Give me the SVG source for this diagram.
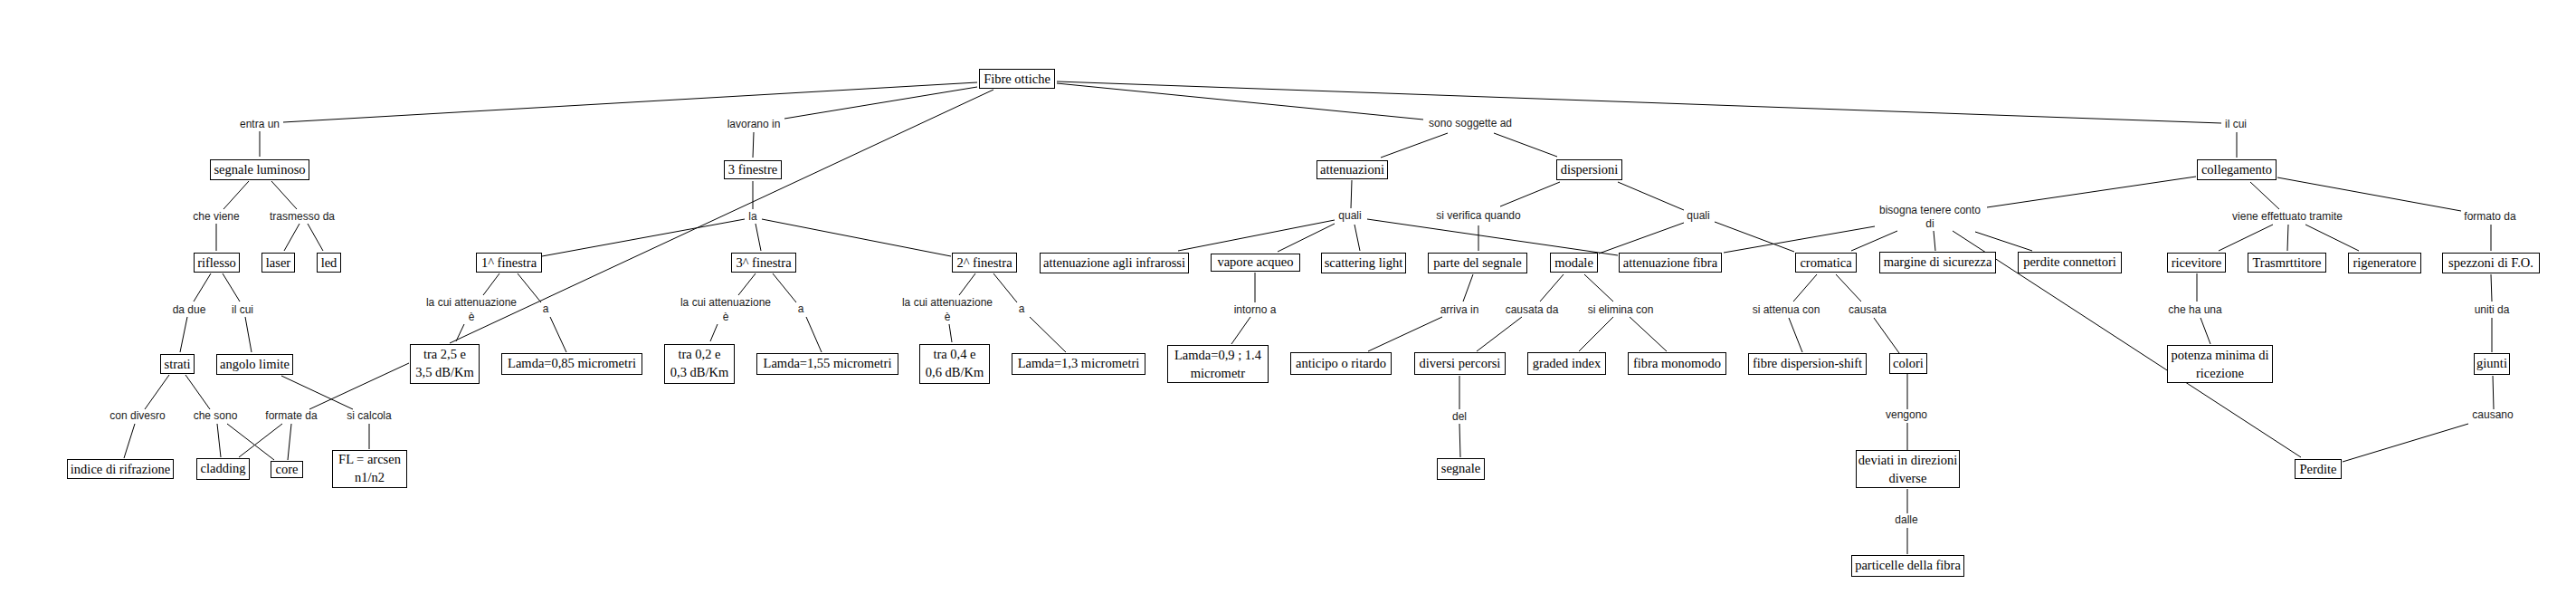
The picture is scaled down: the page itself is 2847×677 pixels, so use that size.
<svg xmlns="http://www.w3.org/2000/svg" width="2847" height="677" viewBox="0 0 2847 677">
<style>
.bg{fill:#fff}
.n rect{fill:#fff;stroke:#000;stroke-width:1}
.n text{font-family:"Liberation Serif","Times New Roman",serif;font-size:14.5px;fill:#000;text-anchor:middle}
.l text{font-family:"Liberation Sans",Arial,sans-serif;font-size:12px;fill:#1a1a1a;text-anchor:middle}
#connectors line{stroke:#000;stroke-width:1;fill:none}
</style>
<rect class="bg" x="0" y="0" width="2847" height="677"/>
<g id="connectors">
<line x1="1080" y1="91" x2="313" y2="135"/>
<line x1="287" y1="145" x2="287" y2="173"/>
<line x1="1080" y1="96" x2="867" y2="131"/>
<line x1="833" y1="146" x2="832" y2="174"/>
<line x1="1098" y1="99" x2="497" y2="379"/>
<line x1="1168" y1="90" x2="2455" y2="136"/>
<line x1="1168" y1="92" x2="1573" y2="132"/>
<line x1="1600" y1="147" x2="1526" y2="174"/>
<line x1="1651" y1="147" x2="1721" y2="173"/>
<line x1="2472" y1="146" x2="2472" y2="174"/>
<line x1="275" y1="200" x2="247" y2="231"/>
<line x1="300" y1="200" x2="328" y2="231"/>
<line x1="239" y1="247" x2="239" y2="277"/>
<line x1="331" y1="247" x2="314" y2="277"/>
<line x1="340" y1="247" x2="357" y2="277"/>
<line x1="233" y1="302" x2="214" y2="333"/>
<line x1="246" y1="302" x2="265" y2="333"/>
<line x1="207" y1="350" x2="199" y2="389"/>
<line x1="271" y1="350" x2="278" y2="389"/>
<line x1="187" y1="414" x2="160" y2="452"/>
<line x1="205" y1="414" x2="232" y2="452"/>
<line x1="311" y1="415" x2="390" y2="452"/>
<line x1="452" y1="401" x2="342" y2="452"/>
<line x1="149" y1="468" x2="137" y2="506"/>
<line x1="240" y1="468" x2="244" y2="505"/>
<line x1="251" y1="468" x2="303" y2="508"/>
<line x1="312" y1="468" x2="264" y2="505"/>
<line x1="322" y1="468" x2="318" y2="508"/>
<line x1="408" y1="468" x2="408" y2="496"/>
<line x1="832" y1="200" x2="832" y2="231"/>
<line x1="823" y1="242" x2="599" y2="283"/>
<line x1="835" y1="247" x2="841" y2="277"/>
<line x1="842" y1="242" x2="1051" y2="283"/>
<line x1="552" y1="302" x2="534" y2="326"/>
<line x1="572" y1="302" x2="598" y2="334"/>
<line x1="513" y1="358" x2="504" y2="377"/>
<line x1="608" y1="350" x2="626" y2="389"/>
<line x1="835" y1="302" x2="816" y2="326"/>
<line x1="854" y1="302" x2="880" y2="334"/>
<line x1="793" y1="358" x2="785" y2="377"/>
<line x1="891" y1="350" x2="908" y2="389"/>
<line x1="1078" y1="302" x2="1060" y2="326"/>
<line x1="1098" y1="302" x2="1124" y2="334"/>
<line x1="1049" y1="358" x2="1052" y2="378"/>
<line x1="1138" y1="350" x2="1178" y2="389"/>
<line x1="1494" y1="199" x2="1493" y2="230"/>
<line x1="1475" y1="243" x2="1302" y2="277"/>
<line x1="1475" y1="247" x2="1412" y2="278"/>
<line x1="1497" y1="248" x2="1503" y2="277"/>
<line x1="1511" y1="242" x2="1788" y2="282"/>
<line x1="1387" y1="301" x2="1387" y2="334"/>
<line x1="1382" y1="350" x2="1361" y2="380"/>
<line x1="1724" y1="201" x2="1658" y2="228"/>
<line x1="1788" y1="201" x2="1861" y2="232"/>
<line x1="1634" y1="249" x2="1634" y2="277"/>
<line x1="1861" y1="246" x2="1767" y2="280"/>
<line x1="1895" y1="245" x2="1983" y2="278"/>
<line x1="1628" y1="303" x2="1617" y2="333"/>
<line x1="1594" y1="350" x2="1512" y2="388"/>
<line x1="1728" y1="303" x2="1702" y2="333"/>
<line x1="1751" y1="303" x2="1783" y2="333"/>
<line x1="1682" y1="350" x2="1632" y2="388"/>
<line x1="1783" y1="350" x2="1745" y2="388"/>
<line x1="1801" y1="350" x2="1842" y2="388"/>
<line x1="1613" y1="415" x2="1613" y2="452"/>
<line x1="1613" y1="468" x2="1614" y2="505"/>
<line x1="2008" y1="303" x2="1982" y2="333"/>
<line x1="2029" y1="303" x2="2057" y2="333"/>
<line x1="1977" y1="351" x2="1992" y2="389"/>
<line x1="2071" y1="351" x2="2099" y2="390"/>
<line x1="2108" y1="413" x2="2108" y2="452"/>
<line x1="2108" y1="467" x2="2108" y2="497"/>
<line x1="2108" y1="540" x2="2108" y2="567"/>
<line x1="2108" y1="583" x2="2108" y2="612"/>
<line x1="2427" y1="195" x2="2196" y2="229"/>
<line x1="2072" y1="250" x2="1905" y2="279"/>
<line x1="2097" y1="255" x2="2046" y2="277"/>
<line x1="2137" y1="255" x2="2139" y2="277"/>
<line x1="2158" y1="255" x2="2543" y2="505"/>
<line x1="2183" y1="256" x2="2246" y2="277"/>
<line x1="2487" y1="201" x2="2519" y2="231"/>
<line x1="2517" y1="196" x2="2720" y2="233"/>
<line x1="2512" y1="248" x2="2452" y2="277"/>
<line x1="2529" y1="248" x2="2528" y2="277"/>
<line x1="2548" y1="248" x2="2607" y2="277"/>
<line x1="2753" y1="248" x2="2753" y2="277"/>
<line x1="2428" y1="302" x2="2428" y2="333"/>
<line x1="2432" y1="351" x2="2443" y2="380"/>
<line x1="2753" y1="303" x2="2754" y2="333"/>
<line x1="2754" y1="351" x2="2754" y2="389"/>
<line x1="2755" y1="415" x2="2756" y2="452"/>
<line x1="2728" y1="468" x2="2589" y2="510"/>
</g>
<g id="labels" class="l">
<g id="lbl-entra"><text x="287" y="141">entra un</text></g>
<g id="lbl-lavorano"><text x="833" y="141">lavorano in</text></g>
<g id="lbl-soggette"><text x="1625" y="140">sono soggette ad</text></g>
<g id="lbl-ilcui1"><text x="2471" y="141">il cui</text></g>
<g id="lbl-cheviene"><text x="239" y="243">che viene</text></g>
<g id="lbl-trasmesso"><text x="334" y="243">trasmesso da</text></g>
<g id="lbl-dadue"><text x="209" y="346">da due</text></g>
<g id="lbl-ilcui2"><text x="268" y="346">il cui</text></g>
<g id="lbl-condivesro"><text x="152" y="463">con divesro</text></g>
<g id="lbl-chesono"><text x="238" y="463">che sono</text></g>
<g id="lbl-formate"><text x="322" y="463">formate da</text></g>
<g id="lbl-sicalcola"><text x="408" y="463">si calcola</text></g>
<g id="lbl-la"><text x="832" y="243">la</text></g>
<g id="lbl-att1"><text x="521" y="338">la cui attenuazione</text><text x="521" y="354">è</text></g>
<g id="lbl-a1"><text x="603" y="345">a</text></g>
<g id="lbl-att3"><text x="802" y="338">la cui attenuazione</text><text x="802" y="354">è</text></g>
<g id="lbl-a3"><text x="885" y="345">a</text></g>
<g id="lbl-att2"><text x="1047" y="338">la cui attenuazione</text><text x="1047" y="354">è</text></g>
<g id="lbl-a2"><text x="1129" y="345">a</text></g>
<g id="lbl-quali1"><text x="1492" y="242">quali</text></g>
<g id="lbl-siverifica"><text x="1634" y="242">si verifica quando</text></g>
<g id="lbl-quali2"><text x="1877" y="242">quali</text></g>
<g id="lbl-intorno"><text x="1387" y="346">intorno a</text></g>
<g id="lbl-arriva"><text x="1613" y="346">arriva in</text></g>
<g id="lbl-causatada"><text x="1693" y="346">causata da</text></g>
<g id="lbl-sielimina"><text x="1791" y="346">si elimina con</text></g>
<g id="lbl-del"><text x="1613" y="464">del</text></g>
<g id="lbl-bisogna"><text x="2133" y="236">bisogna tenere conto</text><text x="2133" y="251">di</text></g>
<g id="lbl-siattenua"><text x="1974" y="346">si attenua con</text></g>
<g id="lbl-causata"><text x="2064" y="346">causata</text></g>
<g id="lbl-vengono"><text x="2107" y="462">vengono</text></g>
<g id="lbl-dalle"><text x="2107" y="578">dalle</text></g>
<g id="lbl-viene"><text x="2528" y="243">viene effettuato tramite</text></g>
<g id="lbl-formato"><text x="2752" y="243">formato da</text></g>
<g id="lbl-cheha"><text x="2426" y="346">che ha una</text></g>
<g id="lbl-uniti"><text x="2754" y="346">uniti da</text></g>
<g id="lbl-causano"><text x="2755" y="462">causano</text></g>
</g>
<g id="nodes" class="n">
<g id="n-fibre"><rect x="1082.5" y="76.5" width="83" height="21"/><text x="1124" y="92">Fibre ottiche</text></g>
<g id="n-segnale-luminoso"><rect x="232.5" y="176.5" width="109" height="22"/><text x="287" y="192">segnale luminoso</text></g>
<g id="n-riflesso"><rect x="214.5" y="279.5" width="50" height="21"/><text x="239.5" y="295">riflesso</text></g>
<g id="n-laser"><rect x="289.5" y="279.5" width="36" height="21"/><text x="307.5" y="295">laser</text></g>
<g id="n-led"><rect x="350.5" y="279.5" width="26" height="21"/><text x="363.5" y="295">led</text></g>
<g id="n-strati"><rect x="177.5" y="391.5" width="37" height="21"/><text x="196" y="407">strati</text></g>
<g id="n-angolo"><rect x="239.5" y="391.5" width="84" height="22"/><text x="281.5" y="407">angolo limite</text></g>
<g id="n-indice"><rect x="74.5" y="507.5" width="117" height="21"/><text x="133" y="523">indice di rifrazione</text></g>
<g id="n-cladding"><rect x="217.5" y="506.5" width="58" height="23"/><text x="246.5" y="522">cladding</text></g>
<g id="n-core"><rect x="299.5" y="509.5" width="35" height="18"/><text x="317" y="523">core</text></g>
<g id="n-fl"><rect x="367.5" y="497.5" width="82" height="41"/><text x="408.5" y="512">FL = arcsen</text><text x="408.5" y="532">n1/n2</text></g>
<g id="n-3finestre"><rect x="800.5" y="177.5" width="63" height="20"/><text x="832" y="192">3 finestre</text></g>
<g id="n-1finestra"><rect x="526.5" y="279.5" width="72" height="21"/><text x="562.5" y="295">1^ finestra</text></g>
<g id="n-3afinestra"><rect x="808.5" y="279.5" width="71" height="21"/><text x="844" y="295">3^ finestra</text></g>
<g id="n-2finestra"><rect x="1052.5" y="279.5" width="71" height="21"/><text x="1088" y="295">2^ finestra</text></g>
<g id="n-tra25"><rect x="453.5" y="380.5" width="76" height="43"/><text x="491.5" y="396">tra 2,5 e</text><text x="491.5" y="416">3,5 dB/Km</text></g>
<g id="n-lamda085"><rect x="554.5" y="390.5" width="155" height="23"/><text x="632" y="406">Lamda=0,85 micrometri</text></g>
<g id="n-tra02"><rect x="734.5" y="380.5" width="77" height="43"/><text x="773" y="396">tra 0,2 e</text><text x="773" y="416">0,3 dB/Km</text></g>
<g id="n-lamda155"><rect x="836.5" y="390.5" width="156" height="23"/><text x="914.5" y="406">Lamda=1,55 micrometri</text></g>
<g id="n-tra04"><rect x="1016.5" y="380.5" width="77" height="43"/><text x="1055" y="396">tra 0,4 e</text><text x="1055" y="416">0,6 dB/Km</text></g>
<g id="n-lamda13"><rect x="1118.5" y="390.5" width="147" height="23"/><text x="1192" y="406">Lamda=1,3 micrometri</text></g>
<g id="n-attenuazioni"><rect x="1455.5" y="177.5" width="78" height="20"/><text x="1494.5" y="192">attenuazioni</text></g>
<g id="n-dispersioni"><rect x="1720.5" y="176.5" width="72" height="22"/><text x="1756.5" y="192">dispersioni</text></g>
<g id="n-infrarossi"><rect x="1149.5" y="279.5" width="164" height="22"/><text x="1231.5" y="295">attenuazione agli infrarossi</text></g>
<g id="n-vapore"><rect x="1338.5" y="280.5" width="98" height="19"/><text x="1387.5" y="294">vapore acqueo</text></g>
<g id="n-scattering"><rect x="1460.5" y="279.5" width="93" height="22"/><text x="1507" y="295">scattering light</text></g>
<g id="n-lamda09"><rect x="1290.5" y="381.5" width="111" height="41"/><text x="1346" y="397">Lamda=0,9 ; 1.4</text><text x="1346" y="417">micrometr</text></g>
<g id="n-parte"><rect x="1578.5" y="279.5" width="109" height="22"/><text x="1633" y="295">parte del segnale</text></g>
<g id="n-modale"><rect x="1713.5" y="279.5" width="52" height="21"/><text x="1739.5" y="295">modale</text></g>
<g id="n-attfibra"><rect x="1789.5" y="279.5" width="113" height="21"/><text x="1846" y="295">attenuazione fibra</text></g>
<g id="n-anticipo"><rect x="1426.5" y="389.5" width="111" height="24"/><text x="1482" y="406">anticipo o ritardo</text></g>
<g id="n-diversi"><rect x="1563.5" y="389.5" width="100" height="24"/><text x="1613.5" y="406">diversi percorsi</text></g>
<g id="n-graded"><rect x="1688.5" y="389.5" width="86" height="24"/><text x="1731.5" y="406">graded index</text></g>
<g id="n-monomodo"><rect x="1799.5" y="389.5" width="108" height="24"/><text x="1853.5" y="406">fibra monomodo</text></g>
<g id="n-segnale"><rect x="1588.5" y="506.5" width="52" height="23"/><text x="1614.5" y="522">segnale</text></g>
<g id="n-cromatica"><rect x="1984.5" y="279.5" width="67" height="21"/><text x="2018" y="295">cromatica</text></g>
<g id="n-margine"><rect x="2077.5" y="278.5" width="128" height="23"/><text x="2141.5" y="294">margine di sicurezza</text></g>
<g id="n-connettori"><rect x="2230.5" y="278.5" width="114" height="23"/><text x="2287.5" y="294">perdite connettori</text></g>
<g id="n-dispshift"><rect x="1932.5" y="390.5" width="130" height="23"/><text x="1997.5" y="406">fibre dispersion-shift</text></g>
<g id="n-colori"><rect x="2088.5" y="390.5" width="41" height="22"/><text x="2109" y="406">colori</text></g>
<g id="n-deviati"><rect x="2051.5" y="497.5" width="114" height="41"/><text x="2108.5" y="513">deviati in direzioni</text><text x="2108.5" y="533">diverse</text></g>
<g id="n-particelle"><rect x="2046.5" y="613.5" width="124" height="23"/><text x="2108.5" y="629">particelle della fibra</text></g>
<g id="n-collegamento"><rect x="2428.5" y="176.5" width="87" height="22"/><text x="2472" y="192">collegamento</text></g>
<g id="n-ricevitore"><rect x="2395.5" y="279.5" width="64" height="21"/><text x="2427.5" y="295">ricevitore</text></g>
<g id="n-trasm"><rect x="2484.5" y="279.5" width="86" height="21"/><text x="2527.5" y="295">Trasmrttitore</text></g>
<g id="n-rigeneratore"><rect x="2595.5" y="279.5" width="80" height="22"/><text x="2635.5" y="295">rigeneratore</text></g>
<g id="n-spezzoni"><rect x="2699.5" y="279.5" width="107" height="22"/><text x="2753" y="295">spezzoni di F.O.</text></g>
<g id="n-potenza"><rect x="2395.5" y="381.5" width="116" height="41"/><text x="2453.5" y="397">potenza minima di</text><text x="2453.5" y="417">ricezione</text></g>
<g id="n-giunti"><rect x="2734.5" y="390.5" width="39" height="23"/><text x="2754" y="406">giunti</text></g>
<g id="n-perdite"><rect x="2536.5" y="507.5" width="51" height="21"/><text x="2562" y="523">Perdite</text></g>
</g>
</svg>
